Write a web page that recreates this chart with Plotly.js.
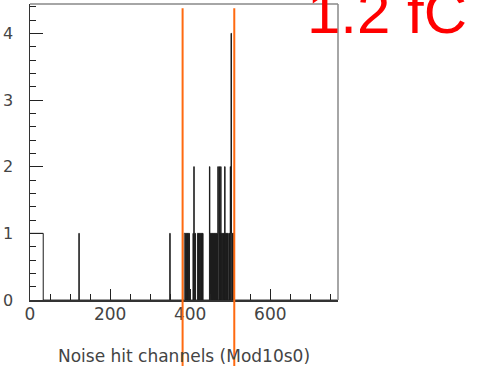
<!DOCTYPE html>
<html>
<head>
<meta charset="utf-8">
<script src="https://cdn.plot.ly/plotly-3.0.1.min.js"></script>
<style>html,body{margin:0;padding:0;background:#fff;}</style>
</head>
<body>
<div id="chart" style="width:484px;height:366px;"></div>
<script>
// Noise hit channels and the number of hits in each
var channels = [
  0,1,2,3,4,5,6,7,8,9,10,11,12,13,14,15,16,17,18,19,20,21,22,23,24,25,26,27,28,29,30,31,32,
  122, 349,
  385,386,387,389,390,392,394,395,397,
  407,409,410,412,
  418,419,421,423,424,426,427,429,431,
  448,449,451,453,454,456,458,459,461,463,464,466,468,469,472,474,476,478,479,481,482,484,
  486,488,489,491,493,494,497,499,500,502,503,505,507,508
];
var hits = [
  1,1,1,1,1,1,1,1,1,1,1,1,1,1,1,1,1,1,1,1,1,1,1,1,1,1,1,1,1,1,1,1,1,
  1, 1,
  1,1,1,1,1,1,1,1,1,
  1,2,1,1,
  1,1,1,1,1,1,1,1,1,
  2,1,1,1,1,1,1,1,1,1,1,1,1,2,2,1,2,1,1,1,1,1,
  2,1,1,1,1,1,1,1,2,4,1,1,1,1
];
var nBins = 768;
var cutLow = 381, cutHigh = 510;   // orange cut lines
var xTitle = 'Noise hit channels (Mod10s0)';
var label = '1.2 fC';

// build the full histogram (one bin per channel)
var counts = new Array(nBins).fill(0);
channels.forEach(function (c, i) { counts[c] = hits[i]; });
var edges = [], vals = [];
for (var b = 0; b < nBins; b++) { edges.push(b); vals.push(counts[b]); }
edges.push(nBins); vals.push(counts[nBins - 1]);

var tickFont = {family: 'DejaVu Sans, sans-serif', size: 17, color: '#444'};
var yTickFont = {family: 'DejaVu Sans, sans-serif', size: 16, color: '#444'};

var trace = {
  type: 'scatter', mode: 'lines', x: edges, y: vals,
  line: {shape: 'hv', color: '#1a1a1a', width: 1},
  hoverinfo: 'skip'
};

var layout = {
  width: 484, height: 366,
  margin: {l: 30, r: 146, t: 4, b: 66, pad: 0},
  paper_bgcolor: '#fff', plot_bgcolor: '#fff',
  showlegend: false,
  xaxis: {
    range: [0, 769], tick0: 0, dtick: 200,
    ticks: 'inside', ticklen: 11, tickwidth: 1, tickcolor: '#222',
    minor: {dtick: 50, ticks: 'inside', ticklen: 6, tickwidth: 1, tickcolor: '#222', showgrid: false},
    showgrid: false, zeroline: false,
    showline: true, linecolor: '#333', linewidth: 1.5,
    tickfont: tickFont, ticklabelstandoff: -2,
    title: {text: xTitle, font: tickFont, standoff: 27}
  },
  yaxis: {
    range: [0, 4.44], tick0: 0, dtick: 1,
    ticks: 'inside', ticklen: 13, tickwidth: 1, tickcolor: '#222',
    minor: {dtick: 0.2, ticks: 'inside', ticklen: 6, tickwidth: 1, tickcolor: '#222', showgrid: false},
    showgrid: false, zeroline: false,
    showline: true, linecolor: '#333', linewidth: 1.5,
    tickfont: yTickFont, ticklabelstandoff: 12
  },
  shapes: [
    {type: 'line', xref: 'paper', yref: 'paper', x0: 0, x1: 1, y0: 1, y1: 1, line: {color: '#888', width: 1.5}},
    {type: 'line', xref: 'paper', yref: 'paper', x0: 1, x1: 1, y0: 0, y1: 1, line: {color: '#888', width: 1.5}},
    {type: 'line', xref: 'x', yref: 'paper', x0: cutLow, x1: cutLow, y0: -0.25, y1: 0.986, line: {color: '#ff6a10', width: 2}},
    {type: 'line', xref: 'x', yref: 'paper', x0: cutHigh, x1: cutHigh, y0: -0.25, y1: 0.986, line: {color: '#ff6a10', width: 2}}
  ],
  annotations: [{
    text: label, xref: 'paper', yref: 'paper', x: 0.892, y: 1.092,
    xanchor: 'left', yanchor: 'top', showarrow: false,
    font: {family: 'Liberation Sans, Arial, sans-serif', size: 60, color: '#ff0000'}
  }]
};

Plotly.newPlot('chart', [trace], layout, {displayModeBar: false, staticPlot: true});
</script>
</body>
</html>
